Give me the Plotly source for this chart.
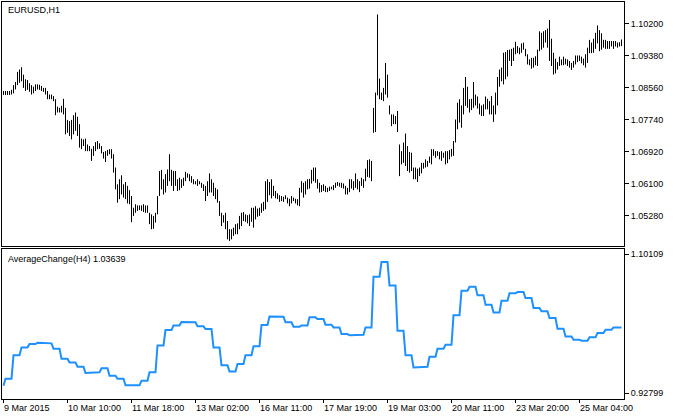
import plotly.graph_objects as go

symbol_title = "EURUSD,H1"
indicator_title = "AverageChange(H4) 1.03639"

# H1 bar highs / lows (EURUSD)
bar_high = [
    1.0847, 1.0847, 1.0847, 1.0847, 1.0850, 1.0862, 1.0870, 1.0896, 1.0902, 1.0908,
    1.0889, 1.0877, 1.0875, 1.0867, 1.0862, 1.0858, 1.0864, 1.0864, 1.0863, 1.0860,
    1.0855, 1.0855, 1.0847, 1.0838, 1.0838, 1.0834, 1.0826, 1.0807, 1.0804, 1.0809,
    1.0827, 1.0804, 1.0773, 1.0770, 1.0773, 1.0785, 1.0792, 1.0781, 1.0762, 1.0725,
    1.0723, 1.0725, 1.0710, 1.0706, 1.0699, 1.0706, 1.0716, 1.0719, 1.0713, 1.0706,
    1.0691, 1.0693, 1.0696, 1.0698, 1.0698, 1.0685, 1.0651, 1.0608, 1.0621, 1.0631,
    1.0608, 1.0614, 1.0604, 1.0593, 1.0578, 1.0548, 1.0557, 1.0554, 1.0554, 1.0554,
    1.0557, 1.0554, 1.0554, 1.0535, 1.0531, 1.0527, 1.0535, 1.0578, 1.0642, 1.0645,
    1.0621, 1.0634, 1.0646, 1.0685, 1.0645, 1.0642, 1.0642, 1.0621, 1.0625, 1.0621,
    1.0625, 1.0640, 1.0636, 1.0634, 1.0629, 1.0621, 1.0616, 1.0621, 1.0616, 1.0612,
    1.0608, 1.0604, 1.0616, 1.0636, 1.0621, 1.0612, 1.0599, 1.0595, 1.0565, 1.0535,
    1.0529, 1.0535, 1.0514, 1.0493, 1.0493, 1.0497, 1.0506, 1.0508, 1.0527, 1.0535,
    1.0537, 1.0531, 1.0529, 1.0531, 1.0548, 1.0548, 1.0552, 1.0546, 1.0548, 1.0559,
    1.0563, 1.0616, 1.0621, 1.0614, 1.0621, 1.0604, 1.0591, 1.0585, 1.0580, 1.0578,
    1.0576, 1.0580, 1.0574, 1.0571, 1.0578, 1.0574, 1.0571, 1.0570, 1.0599, 1.0616,
    1.0612, 1.0616, 1.0621, 1.0622, 1.0645, 1.0651, 1.0651, 1.0621, 1.0612, 1.0606,
    1.0608, 1.0604, 1.0599, 1.0602, 1.0602, 1.0606, 1.0612, 1.0614, 1.0612, 1.0612,
    1.0610, 1.0604, 1.0599, 1.0621, 1.0621, 1.0616, 1.0636, 1.0621, 1.0616, 1.0625,
    1.0621, 1.0648, 1.0670, 1.0672, 1.0668, 1.0804, 1.0843, 1.1043, 1.0879, 1.0843,
    1.0855, 1.0919, 1.0889, 1.0810, 1.0787, 1.0787, 1.0783, 1.0796, 1.0710, 1.0693,
    1.0715, 1.0738, 1.0706, 1.0691, 1.0689, 1.0651, 1.0651, 1.0648, 1.0651, 1.0663,
    1.0663, 1.0672, 1.0668, 1.0679, 1.0698, 1.0698, 1.0693, 1.0693, 1.0691, 1.0693,
    1.0689, 1.0693, 1.0693, 1.0696, 1.0699, 1.0719, 1.0774, 1.0817, 1.0826, 1.0810,
    1.0855, 1.0883, 1.0858, 1.0826, 1.0827, 1.0870, 1.0838, 1.0833, 1.0815, 1.0810,
    1.0813, 1.0833, 1.0827, 1.0821, 1.0834, 1.0810, 1.0843, 1.0883, 1.0902, 1.0907,
    1.0945, 1.0947, 1.0952, 1.0953, 1.0955, 1.0958, 1.0973, 1.0962, 1.0958, 1.0969,
    1.0971, 1.0955, 1.0941, 1.0928, 1.0932, 1.0932, 1.0936, 1.0953, 1.1000, 1.0996,
    1.1000, 1.1003, 1.1007, 1.1029, 1.0981, 1.0945, 1.0930, 1.0921, 1.0935, 1.0928,
    1.0935, 1.0930, 1.0928, 1.0924, 1.0919, 1.0924, 1.0938, 1.0938, 1.0938, 1.0935,
    1.0930, 1.0941, 1.0958, 1.0978, 1.0971, 1.0981, 1.0996, 1.1015, 1.1003, 1.0995,
    1.0978, 1.0978, 1.0975, 1.0975, 1.0975, 1.0975, 1.0975, 1.0971, 1.0972, 1.0979,
]
bar_low = [
    1.0837, 1.0837, 1.0837, 1.0837, 1.0838, 1.0841, 1.0851, 1.0862, 1.0868, 1.0872,
    1.0855, 1.0847, 1.0850, 1.0845, 1.0838, 1.0841, 1.0847, 1.0851, 1.0850, 1.0847,
    1.0845, 1.0838, 1.0826, 1.0826, 1.0826, 1.0821, 1.0785, 1.0792, 1.0792, 1.0792,
    1.0787, 1.0736, 1.0740, 1.0732, 1.0723, 1.0736, 1.0745, 1.0732, 1.0702, 1.0698,
    1.0706, 1.0693, 1.0693, 1.0693, 1.0668, 1.0681, 1.0693, 1.0698, 1.0699, 1.0687,
    1.0674, 1.0665, 1.0681, 1.0685, 1.0674, 1.0638, 1.0595, 1.0561, 1.0570, 1.0582,
    1.0574, 1.0570, 1.0559, 1.0557, 1.0511, 1.0527, 1.0535, 1.0540, 1.0542, 1.0540,
    1.0537, 1.0535, 1.0535, 1.0506, 1.0493, 1.0494, 1.0510, 1.0531, 1.0578, 1.0595,
    1.0582, 1.0587, 1.0604, 1.0616, 1.0604, 1.0591, 1.0604, 1.0591, 1.0593, 1.0599,
    1.0604, 1.0616, 1.0625, 1.0616, 1.0612, 1.0608, 1.0608, 1.0604, 1.0608, 1.0599,
    1.0591, 1.0565, 1.0578, 1.0587, 1.0587, 1.0578, 1.0570, 1.0561, 1.0527, 1.0501,
    1.0510, 1.0493, 1.0467, 1.0463, 1.0467, 1.0476, 1.0480, 1.0480, 1.0493, 1.0501,
    1.0514, 1.0512, 1.0508, 1.0501, 1.0512, 1.0497, 1.0518, 1.0525, 1.0527, 1.0535,
    1.0540, 1.0544, 1.0563, 1.0580, 1.0572, 1.0578, 1.0572, 1.0570, 1.0563, 1.0565,
    1.0563, 1.0570, 1.0559, 1.0552, 1.0559, 1.0565, 1.0559, 1.0554, 1.0552, 1.0587,
    1.0574, 1.0582, 1.0595, 1.0597, 1.0610, 1.0616, 1.0612, 1.0597, 1.0587, 1.0588,
    1.0591, 1.0588, 1.0588, 1.0591, 1.0595, 1.0593, 1.0599, 1.0604, 1.0602, 1.0599,
    1.0597, 1.0582, 1.0582, 1.0588, 1.0597, 1.0593, 1.0599, 1.0595, 1.0588, 1.0604,
    1.0599, 1.0616, 1.0627, 1.0625, 1.0616, 1.0740, 1.0742, 1.0836, 1.0826, 1.0824,
    1.0821, 1.0838, 1.0830, 1.0787, 1.0757, 1.0762, 1.0762, 1.0742, 1.0629, 1.0659,
    1.0663, 1.0655, 1.0642, 1.0638, 1.0642, 1.0621, 1.0621, 1.0614, 1.0629, 1.0636,
    1.0648, 1.0651, 1.0653, 1.0663, 1.0659, 1.0681, 1.0676, 1.0681, 1.0672, 1.0668,
    1.0676, 1.0659, 1.0662, 1.0672, 1.0679, 1.0681, 1.0715, 1.0749, 1.0766, 1.0753,
    1.0787, 1.0809, 1.0804, 1.0792, 1.0798, 1.0804, 1.0810, 1.0802, 1.0787, 1.0783,
    1.0783, 1.0800, 1.0800, 1.0787, 1.0787, 1.0768, 1.0787, 1.0810, 1.0858, 1.0872,
    1.0864, 1.0877, 1.0884, 1.0924, 1.0911, 1.0924, 1.0941, 1.0944, 1.0941, 1.0945,
    1.0953, 1.0936, 1.0915, 1.0913, 1.0904, 1.0907, 1.0913, 1.0911, 1.0949, 1.0953,
    1.0958, 1.0971, 1.0958, 1.0924, 1.0911, 1.0889, 1.0892, 1.0902, 1.0911, 1.0913,
    1.0913, 1.0915, 1.0911, 1.0907, 1.0901, 1.0907, 1.0915, 1.0921, 1.0924, 1.0918,
    1.0913, 1.0907, 1.0919, 1.0944, 1.0944, 1.0945, 1.0955, 1.0969, 1.0949, 1.0953,
    1.0958, 1.0955, 1.0955, 1.0955, 1.0961, 1.0955, 1.0961, 1.0958, 1.0961, 1.0962,
]

# AverageChange indicator, one value per H4 period
avg_change_h4 = [
    0.9371, 0.9458, 0.9749, 0.9848, 0.9890, 0.9906, 0.9898, 0.9832, 0.9707, 0.9661,
    0.9607, 0.9529, 0.9537, 0.9587, 0.9495, 0.9458, 0.9375, 0.9375, 0.9433, 0.9537,
    0.9873, 1.0064, 1.0122, 1.0164, 1.0160, 1.0110, 1.0077, 0.9848, 0.9624, 0.9549,
    0.9641, 0.9749, 0.9861, 1.0126, 1.0234, 1.0230, 1.0160, 1.0106, 1.0122, 1.0222,
    1.0201, 1.0131, 1.0097, 1.0014, 0.9998, 1.0006, 1.0097, 1.0728, 1.0911, 1.0620,
    1.0056, 0.9749, 0.9599, 0.9607, 0.9732, 0.9832, 0.9881, 1.0247, 1.0554, 1.0604,
    1.0496, 1.0380, 1.0284, 1.0429, 1.0521, 1.0537, 1.0463, 1.0338, 1.0297, 1.0214,
    1.0081, 0.9985, 0.9944, 0.9931, 0.9973, 1.0027, 1.0068, 1.0097, 1.0097,
]
bars_per_h4 = 4
h4_phase = 3

x_tick_bars = [0, 32, 64, 96, 128, 160, 192, 224, 256, 288]
x_tick_labels = ["9 Mar 2015", "10 Mar 10:00", "11 Mar 18:00", "13 Mar 02:00",
                 "16 Mar 11:00", "17 Mar 19:00", "19 Mar 03:00", "20 Mar 11:00",
                 "23 Mar 20:00", "25 Mar 04:00"]
price_ticks = [1.10200, 1.09380, 1.08560, 1.07740, 1.06920, 1.06100, 1.05280]
indicator_ticks = [1.10109, 0.92799]

FONT = "Liberation Sans"
n = len(bar_high)

bx, by = [], []
for i in range(n):
    bx += [i, i, None]
    by += [bar_low[i], bar_high[i], None]

ind_x = list(range(n))
ind_y = [avg_change_h4[(i + h4_phase) // bars_per_h4] for i in range(n)]

fig = go.Figure()
fig.add_trace(go.Scatter(x=bx, y=by, mode="lines", line=dict(color="black", width=1),
                         xaxis="x", yaxis="y", hoverinfo="skip", showlegend=False))
fig.add_trace(go.Scatter(x=ind_x, y=ind_y, mode="lines", line=dict(color="#1E90FF", width=2),
                         xaxis="x2", yaxis="y2", showlegend=False))

xr = [-0.75, n + 0.25]
axis_common = dict(showline=True, mirror=True, linecolor="black", linewidth=1,
                   showgrid=False, zeroline=False)

fig.update_layout(
    width=676, height=419,
    margin=dict(l=2, r=52, t=2, b=20),
    paper_bgcolor="white", plot_bgcolor="white",
    font=dict(family=FONT, size=9, color="black"),
    xaxis=dict(domain=[0, 1], range=xr, anchor="y", showticklabels=False, ticks="", **axis_common),
    yaxis=dict(domain=[0.3854, 1], range=[1.0450, 1.1075], side="right", anchor="x",
               tickvals=price_ticks, ticktext=[f"{v:.5f}" for v in price_ticks],
               ticks="outside", ticklen=4, tickcolor="black",
               tickfont=dict(family=FONT, size=9, color="black"), **axis_common),
    xaxis2=dict(domain=[0, 1], range=xr, anchor="y2", tickvals=x_tick_bars,
                showticklabels=False, ticks="outside", ticklen=3, tickcolor="black", **axis_common),
    yaxis2=dict(domain=[0, 0.3778], range=[0.92052, 1.10732], side="right", anchor="x2",
                tickvals=indicator_ticks, ticktext=[f"{v:.5f}" for v in indicator_ticks],
                ticks="outside", ticklen=4, tickcolor="black",
                tickfont=dict(family=FONT, size=9, color="black"), **axis_common),
)

ann = [
    dict(text=symbol_title, xref="paper", yref="paper", x=0.006, y=0.98,
         xanchor="left", yanchor="middle", showarrow=False, font=dict(family=FONT, size=9)),
    dict(text=indicator_title, xref="paper", yref="paper", x=0.006, y=0.3526,
         xanchor="left", yanchor="middle", showarrow=False, font=dict(family=FONT, size=9)),
]
for b, lab in zip(x_tick_bars, x_tick_labels):
    ann.append(dict(text=lab, xref="x2", yref="paper", x=b, y=-0.0235, xshift=-2,
                    xanchor="left", yanchor="middle", showarrow=False,
                    font=dict(family=FONT, size=9)))
fig.update_layout(annotations=ann)

fig.write_html("out.html", config={"displayModeBar": False},
               post_script="document.body.style.margin='0';document.body.style.padding='0';")
